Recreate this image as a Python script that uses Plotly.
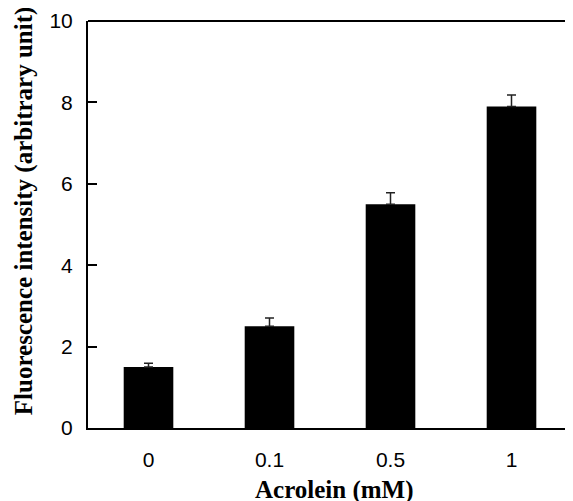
import plotly.graph_objects as go

categories = ["0", "0.1", "0.5", "1"]
values = [1.5, 2.5, 5.5, 7.9]
errors = [0.09, 0.2, 0.28, 0.28]
y_ticks = [0, 2, 4, 6, 8, 10]

fig = go.Figure()
fig.add_trace(go.Bar(
    x=categories, y=values, width=0.41,
    marker=dict(color="black", line=dict(width=0)),
    error_y=dict(type="data", array=errors, symmetric=False, arrayminus=[0]*len(errors),
                 color="#222222", thickness=1.5, width=4.5),
))

fig.update_layout(
    width=565, height=493,
    margin=dict(l=80, r=0.5, t=13, b=73),
    paper_bgcolor="white", plot_bgcolor="white",
    showlegend=False,
    font=dict(family="Liberation Sans, Arial", size=21, color="black"),
    xaxis=dict(type="category", range=[-0.5, 3.5], showline=True, linecolor="black", linewidth=2,
               ticks="", showgrid=False, ticklabelstandoff=12,
               tickfont=dict(family="Liberation Sans, Arial", size=21, color="black")),
    yaxis=dict(range=[0, 10], tickvals=y_ticks, showline=True, linecolor="black", linewidth=2,
               ticks="inside", ticklen=9, tickwidth=2, tickcolor="black", showgrid=False,
               zeroline=False, ticklabelstandoff=9,
               tickfont=dict(family="Liberation Sans, Arial", size=21, color="black")),
    shapes=[
        dict(type="line", xref="paper", yref="paper", x0=0, x1=1, y0=1, y1=1,
             line=dict(color="black", width=2)),
        dict(type="line", xref="paper", yref="paper", x0=1, x1=1, y0=0, y1=1,
             line=dict(color="#aaaaaa", width=1)),
    ],
    annotations=[
        dict(text="<b>Acrolein (mM)</b>", xref="paper", yref="paper", x=0.51, y=-0.112,
             xanchor="center", yanchor="top", showarrow=False,
             font=dict(family="Liberation Serif, Times New Roman", size=25, color="black")),
        dict(text="<b>Fluorescence intensity (arbitrary unit)</b>", xref="paper", yref="paper",
             x=-0.132, y=0.533, xanchor="center", yanchor="middle", textangle=-90, showarrow=False,
             font=dict(family="Liberation Serif, Times New Roman", size=25, color="black")),
    ],
)

fig.write_html("out.html")
